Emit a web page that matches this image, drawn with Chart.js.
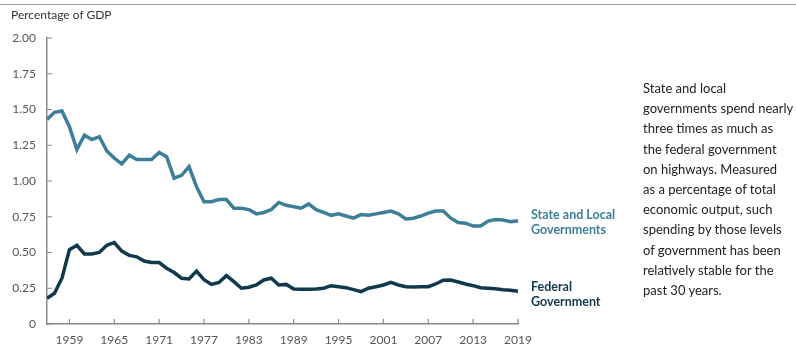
<!DOCTYPE html>
<html>
<head>
<meta charset="utf-8">
<script src="https://cdn.jsdelivr.net/npm/chart.js@4.4.1/dist/chart.umd.min.js"></script>
<style>
  body { margin: 0; background: #fff; }
  #wrap { position: relative; width: 796px; height: 349px; font-family: Lato, sans-serif; }
  #topline { position: absolute; left: 0; top: 4px; width: 796px; height: 1px; background: #a0a0a0; }
  #unit { position: absolute; left: 11px; top: 7px; font-size: 12px; color: #333; }
  .lbl { position: absolute; left: 531px; font-size: 12.5px; font-weight: bold; line-height: 15px; }
  #note { position: absolute; left: 643px; top: 78px; width: 160px; font-size: 13px; line-height: 20.2px; color: #222; }
  canvas { position: absolute; left: 0; top: 0; }
</style>
</head>
<body>
<div id="wrap">
  <canvas id="c" width="796" height="349"></canvas>
  <div id="topline"></div>
  <div id="unit">Percentage of GDP</div>
  <div class="lbl" style="top:207px;color:#3d7f99">State and Local<br>Governments</div>
  <div class="lbl" style="top:279px;color:#11394e">Federal<br>Government</div>
  <div id="note">State and local<br>governments spend nearly<br>three times as much as<br>the federal government<br>on highways. Measured<br>as a percentage of total<br>economic output, such<br>spending by those levels<br>of government has been<br>relatively stable for the<br>past 30 years.</div>
</div>
<script>
// years 1956-2019
var years = [];
for (var y = 1956; y <= 2019; y++) years.push(y);

var stateLocal = [1.43, 1.48, 1.49, 1.38, 1.22, 1.32, 1.29, 1.31, 1.21, 1.16,
                  1.12, 1.18, 1.15, 1.15, 1.15, 1.20, 1.17, 1.02, 1.04, 1.10,
                  0.96, 0.855, 0.855, 0.87, 0.87, 0.81, 0.81, 0.80, 0.77, 0.78,
                  0.80, 0.85, 0.83, 0.82, 0.81, 0.84, 0.80, 0.78, 0.76, 0.77,
                  0.755, 0.74, 0.765, 0.76, 0.77, 0.78, 0.79, 0.77, 0.735, 0.74,
                  0.755, 0.775, 0.79, 0.79, 0.74, 0.71, 0.705, 0.685, 0.685, 0.72,
                  0.73, 0.727, 0.716, 0.72];

var federal = [0.18, 0.215, 0.32, 0.52, 0.55, 0.49, 0.49, 0.50, 0.55, 0.57,
               0.51, 0.48, 0.47, 0.44, 0.43, 0.43, 0.39, 0.36, 0.32, 0.315,
               0.37, 0.31, 0.277, 0.29, 0.338, 0.296, 0.25, 0.257, 0.273, 0.308,
               0.32, 0.273, 0.277, 0.245, 0.243, 0.243, 0.245, 0.25, 0.268, 0.261,
               0.254, 0.24, 0.226, 0.25, 0.261, 0.273, 0.292, 0.273, 0.261, 0.258,
               0.261, 0.261, 0.28, 0.306, 0.308, 0.294, 0.28, 0.268, 0.254, 0.25,
               0.247, 0.24, 0.236, 0.229];

var xTicks = [1959, 1965, 1971, 1977, 1983, 1989, 1995, 2001, 2007, 2013, 2019];
var yTicks = [0, 0.25, 0.5, 0.75, 1, 1.25, 1.5, 1.75, 2];

function pts(arr) {
    return arr.map(function (v, i) { return {x: years[i], y: v}; });
}

// small tick marks pointing into the plot
var innerTicks = {
    id: 'innerTicks',
    afterDraw: function (chart) {
        var ctx = chart.ctx, a = chart.chartArea;
        var xs = chart.scales.x, ys = chart.scales.y;
        ctx.save();
        ctx.strokeStyle = '#8a8a8a';
        ctx.lineWidth = 1.2;
        ctx.beginPath();
        xTicks.forEach(function (t) {
            var px = xs.getPixelForValue(t);
            ctx.moveTo(px, a.bottom);
            ctx.lineTo(px, a.bottom - 5);
        });
        yTicks.forEach(function (t) {
            var py = ys.getPixelForValue(t);
            ctx.moveTo(a.left, py);
            ctx.lineTo(a.left + 5, py);
        });
        ctx.stroke();
        ctx.restore();
    }
};

new Chart(document.getElementById('c'), {
    type: 'line',
    data: {
        datasets: [
            {data: pts(stateLocal), borderColor: '#3d7f99', borderWidth: 3.5, pointRadius: 0, tension: 0},
            {data: pts(federal), borderColor: '#11394e', borderWidth: 3.5, pointRadius: 0, tension: 0}
        ]
    },
    options: {
        responsive: false,
        animation: false,
        layout: {padding: {left: 0, right: 278, top: 38, bottom: 0}},
        plugins: {legend: {display: false}, tooltip: {enabled: false}},
        scales: {
            x: {
                type: 'linear', min: 1956, max: 2019,
                afterBuildTicks: function (s) { s.ticks = xTicks.map(function (v) { return {value: v}; }); },
                afterFit: function (s) { s.height = 25; },
                grid: {display: false, drawTicks: false},
                border: {color: '#8a8a8a', width: 1.5},
                ticks: {padding: 9, color: '#555', font: {family: 'Lato', size: 12},
                        callback: function (v) { return String(v); }}
            },
            y: {
                min: 0, max: 2,
                afterBuildTicks: function (s) { s.ticks = yTicks.map(function (v) { return {value: v}; }); },
                afterFit: function (s) { s.width = 47; },
                grid: {display: false, drawTicks: false},
                border: {color: '#8a8a8a', width: 1.5},
                ticks: {padding: 11, color: '#555', font: {family: 'Lato', size: 12},
                        callback: function (v) { return v === 0 ? '0' : v.toFixed(2); }}
            }
        }
    },
    plugins: [innerTicks]
});
</script>
</body>
</html>
